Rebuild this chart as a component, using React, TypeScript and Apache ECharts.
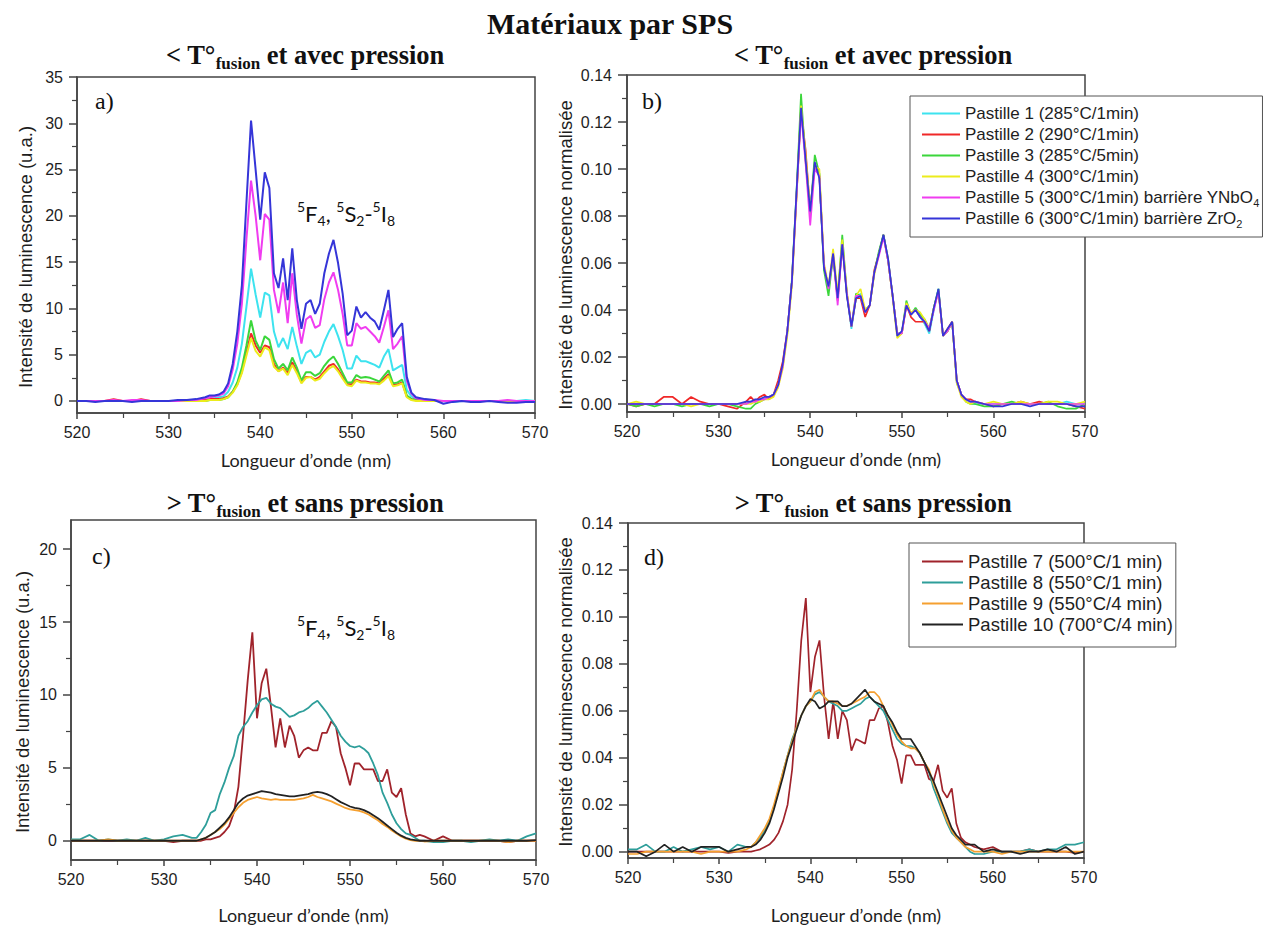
import React, { useEffect, useRef } from "react";
import * as echarts from "echarts";

// ---------- DATA ----------
const wavelength = [
  520, 521, 522, 523, 524, 525, 526, 527, 528, 529, 530, 531, 532, 533,
  533.5, 534, 534.5, 535, 535.5, 536, 536.5, 537, 537.5, 538,
  538.5, 539, 539.5, 540, 540.5, 541, 541.5, 542, 542.5, 543,
  543.5, 544, 544.5, 545, 545.5, 546, 546.5, 547, 547.5, 548,
  548.5, 549, 549.5, 550, 550.5, 551, 551.5, 552, 552.5, 553,
  553.5, 554, 554.5, 555, 555.5, 556, 556.5, 557, 557.5, 558,
  559, 560, 561, 562, 563, 564, 565, 566, 567, 568, 569, 570,
];

const namesAB = [
  "Pastille 1 (285°C/1min)",
  "Pastille 2 (290°C/1min)",
  "Pastille 3 (285°C/5min)",
  "Pastille 4 (300°C/1min)",
  "Pastille 5 (300°C/1min) barrière YNbO4",
  "Pastille 6 (300°C/1min) barrière ZrO2",
];
const namesCD = [
  "Pastille 7 (500°C/1 min)",
  "Pastille 8 (550°C/1 min)",
  "Pastille 9 (550°C/4 min)",
  "Pastille 10 (700°C/4 min)",
];
const colorsAB = ["#3de3ef", "#f02828", "#3bd63b", "#ecec1c", "#f03cf0", "#3535d8"];
const colorsCD = ["#a0232b", "#2e9e9a", "#f5a030", "#222222"];

// panel a) raw intensity (u.a.)
const aP1 = [0, 0, 0, 0, 0, 0, 0, 0, 0, 0, 0, 0, 0, 0.1,
  0.1, 0.2, 0.3, 0.3, 0.4, 0.5, 1.0, 2.0, 3.6, 6.2,
  10.2, 14.3, 11.5, 9.0, 11.7, 11.4, 7.5, 5.8, 6.8, 5.6,
  8.0, 5.9, 4.0, 5.2, 5.5, 4.7, 5.0, 6.4, 7.5, 8.3,
  7.0, 5.5, 3.5, 3.5, 4.9, 4.3, 4.3, 4.1, 3.9, 3.6,
  4.8, 5.6, 3.3, 3.6, 3.9, 1.2, 0.5, 0.2, 0.1, 0.1,
  0, 0, -0.1, 0, 0, 0, 0, 0, 0, 0, 0.1, 0];
const aP2 = [0, 0, 0, 0, 0.2, 0, 0, 0.2, 0, 0, 0, 0, 0.1, 0.1,
  0.1, 0.1, 0.2, 0.2, 0.2, 0.3, 0.5, 1.0, 1.8, 3.2,
  5.2, 7.3, 6.0, 5.2, 6.0, 5.8, 4.0, 3.2, 3.6, 3.0,
  4.2, 3.2, 2.0, 2.6, 2.6, 2.3, 2.6, 3.2, 3.8, 4.0,
  3.4, 2.6, 1.8, 1.8, 2.3, 2.1, 2.1, 2.0, 2.0, 1.9,
  2.4, 2.9, 1.7, 1.8, 2.0, 0.5, 0.2, 0.1, 0.1, 0,
  0, 0, 0, 0, 0, 0, 0, 0, 0, 0, 0, 0];
const aP3 = [0, 0, 0, 0, 0, 0, 0, 0, 0, 0, 0, 0, 0, 0,
  0, 0, 0.1, 0.1, 0.1, 0.2, 0.4, 1.0, 2.0, 3.6,
  6.0, 8.7, 6.5, 5.5, 7.0, 6.6, 4.5, 3.5, 4.0, 3.3,
  4.7, 3.6, 2.2, 3.1, 3.1, 2.7, 3.0, 3.8, 4.4, 4.8,
  4.0, 3.0, 2.0, 2.0, 2.8, 2.5, 2.6, 2.5, 2.3, 2.1,
  2.7, 3.3, 1.9, 2.0, 2.3, 0.6, 0.2, 0.1, 0, 0,
  0, 0, 0, 0, 0, 0, 0, 0, 0, 0, 0, 0];
const aP4 = [0, 0, 0, 0, 0, 0, 0, 0, 0, 0, 0, 0, 0, 0,
  0, 0, 0.1, 0.1, 0.1, 0.2, 0.4, 0.9, 1.7, 3.0,
  4.9, 6.8, 5.4, 4.8, 5.8, 5.5, 3.7, 3.2, 3.5, 2.8,
  3.9, 3.0, 1.9, 2.5, 2.6, 2.2, 2.4, 3.0, 3.5, 3.8,
  3.2, 2.4, 1.7, 1.6, 2.2, 2.0, 2.0, 1.9, 1.9, 1.8,
  2.2, 2.7, 1.6, 1.7, 1.9, 0.4, 0.1, 0, 0, 0,
  0, 0, 0, 0, 0, 0, 0, 0, 0, 0, 0, 0];
const aP5 = [0, 0, 0, 0, 0.1, 0, 0.1, 0.1, 0, 0, 0, 0, 0.1, 0.1,
  0.2, 0.3, 0.4, 0.5, 0.6, 0.8, 1.6, 3.4, 6.2, 10.5,
  17.5, 23.8, 20.0, 15.2, 20.2, 19.6, 12.0, 9.5, 12.8, 8.4,
  13.8, 9.3, 6.2, 8.8, 9.2, 7.9, 8.2, 11.0, 12.8, 13.9,
  12.0, 9.4, 6.0, 6.0, 8.4, 7.8, 8.0, 7.5, 7.0, 6.3,
  8.0, 9.8, 5.6, 6.2, 7.0, 2.2, 0.8, 0.3, 0.2, 0.1,
  0.1, 0, 0, 0, 0, 0, 0, 0, 0.1, 0, 0, 0];
const aP6 = [0, 0, -0.1, 0, 0, 0, -0.1, 0, 0, 0, 0, 0.1, 0.1, 0.2,
  0.3, 0.4, 0.6, 0.6, 0.7, 1.0, 1.9, 4.0, 7.5, 12.5,
  21.5, 30.3, 25.0, 19.6, 24.7, 23.0, 13.8, 12.2, 15.4, 10.9,
  16.5, 10.9, 7.8, 10.5, 10.9, 9.4, 10.5, 13.8, 15.9, 17.4,
  14.9, 11.6, 7.1, 7.6, 10.2, 9.0, 9.6, 9.0, 8.6, 7.7,
  9.8, 12.0, 6.9, 7.8, 8.4, 2.6, 0.9, 0.4, 0.3, 0.2,
  0.1, -0.3, -0.1, 0, -0.1, -0.1, 0, -0.1, -0.2, -0.2, -0.1, -0.1];

// panel b) normalised intensity
const bP1 = [0, 0, 0, 0, 0, 0, 0, 0, 0, 0, 0, 0, 0, 0,
  0.001, 0.001, 0.002, 0.002, 0.003, 0.004, 0.008, 0.016, 0.031, 0.052,
  0.089, 0.126, 0.104, 0.081, 0.102, 0.098, 0.058, 0.050, 0.063, 0.045,
  0.069, 0.047, 0.032, 0.045, 0.047, 0.039, 0.042, 0.056, 0.064, 0.072,
  0.062, 0.046, 0.030, 0.030, 0.043, 0.038, 0.040, 0.037, 0.034, 0.030,
  0.040, 0.049, 0.029, 0.031, 0.035, 0.010, 0.004, 0.002, 0.001, 0,
  0, 0, 0, 0, 0, 0, 0, 0, 0, 0.001, 0, 0];
const bP2 = [0, -0.001, 0, 0, 0.003, 0.003, 0, 0.003, 0.001, 0, 0, -0.001, -0.002, 0.001,
  0.003, 0.001, 0.003, 0.004, 0.002, 0.004, 0.010, 0.018, 0.031, 0.052,
  0.088, 0.125, 0.108, 0.082, 0.102, 0.097, 0.059, 0.049, 0.063, 0.044,
  0.068, 0.047, 0.033, 0.045, 0.045, 0.037, 0.042, 0.057, 0.064, 0.072,
  0.061, 0.046, 0.030, 0.030, 0.042, 0.037, 0.035, 0.035, 0.035, 0.031,
  0.041, 0.048, 0.029, 0.032, 0.035, 0.010, 0.004, 0.002, 0.002, 0.001,
  0, -0.001, 0, 0, 0.001, 0, 0.001, 0, 0, 0, -0.001, -0.002];
const bP3 = [0, -0.001, 0, -0.001, 0, 0, -0.001, 0, 0, -0.001, 0, 0, -0.001, -0.002,
  -0.002, 0, 0.001, 0.002, 0.003, 0.004, 0.008, 0.016, 0.030, 0.053,
  0.090, 0.132, 0.103, 0.081, 0.106, 0.098, 0.057, 0.046, 0.063, 0.045,
  0.072, 0.047, 0.033, 0.047, 0.046, 0.040, 0.042, 0.056, 0.065, 0.072,
  0.061, 0.046, 0.030, 0.030, 0.044, 0.038, 0.041, 0.038, 0.036, 0.032,
  0.041, 0.049, 0.029, 0.031, 0.035, 0.009, 0.004, 0.001, 0, 0,
  -0.001, -0.001, 0, 0.001, 0, 0, 0, 0.001, -0.001, -0.002, -0.002, 0];
const bP4 = [0, 0.001, 0, 0, 0, 0, 0, -0.001, 0, 0, 0, 0, 0, 0,
  0, 0.001, 0.001, 0.002, 0.002, 0.003, 0.007, 0.015, 0.029, 0.050,
  0.087, 0.127, 0.106, 0.083, 0.101, 0.100, 0.060, 0.050, 0.066, 0.047,
  0.070, 0.048, 0.033, 0.046, 0.049, 0.040, 0.042, 0.055, 0.064, 0.071,
  0.062, 0.045, 0.028, 0.030, 0.043, 0.039, 0.040, 0.039, 0.036, 0.032,
  0.041, 0.048, 0.029, 0.031, 0.035, 0.009, 0.003, 0.001, 0, 0.001,
  0, 0.001, 0, 0, 0.001, 0, 0, 0.001, 0.001, 0, 0, 0.001];
const bP5 = [0, 0, 0, 0, 0, 0, 0, 0, 0, 0, 0, 0, 0, 0,
  0.001, 0.001, 0.002, 0.002, 0.003, 0.004, 0.008, 0.016, 0.031, 0.052,
  0.088, 0.124, 0.102, 0.076, 0.100, 0.097, 0.059, 0.049, 0.064, 0.042,
  0.068, 0.047, 0.033, 0.046, 0.046, 0.039, 0.042, 0.056, 0.063, 0.071,
  0.061, 0.046, 0.030, 0.030, 0.042, 0.038, 0.040, 0.037, 0.035, 0.032,
  0.040, 0.048, 0.029, 0.031, 0.035, 0.010, 0.004, 0.002, 0.001, 0.001,
  0, 0, 0, 0, 0, 0, 0, 0, 0, 0, 0, 0];
const bP6 = [0, 0, 0, 0, 0, 0, 0, 0, 0, 0, 0, 0, 0, 0.001,
  0.001, 0.002, 0.002, 0.003, 0.003, 0.004, 0.008, 0.017, 0.031, 0.052,
  0.090, 0.126, 0.104, 0.082, 0.103, 0.096, 0.058, 0.050, 0.064, 0.045,
  0.068, 0.046, 0.033, 0.045, 0.046, 0.039, 0.042, 0.056, 0.064, 0.072,
  0.062, 0.046, 0.029, 0.031, 0.042, 0.038, 0.040, 0.037, 0.035, 0.031,
  0.041, 0.049, 0.029, 0.032, 0.035, 0.010, 0.004, 0.002, 0.001, 0.001,
  0, -0.001, -0.001, 0, 0, -0.001, 0, 0, 0, 0, -0.001, -0.001];

// panel c) raw intensity (u.a.)
const cP7 = [0, 0, 0, 0, 0, 0, 0, 0, 0, 0, 0, -0.1, 0, 0,
  0, 0, 0.1, 0.1, 0.2, 0.3, 0.6, 1.0, 1.9, 3.7,
  7.2, 11.0, 14.3, 8.4, 10.8, 11.8, 9.2, 6.4, 8.4, 6.4,
  7.9, 7.2, 5.7, 6.2, 6.4, 6.2, 6.2, 7.4, 7.4, 8.2,
  7.8, 6.0, 5.0, 3.8, 5.3, 5.3, 4.9, 4.9, 4.9, 4.1,
  4.1, 4.9, 3.3, 3.0, 3.6, 1.8, 0.5, 0.3, 0.4, 0.3,
  0, 0.3, 0, 0, 0, 0, 0, 0, -0.1, 0, 0, 0];
const cP8 = [0.1, 0.1, 0.4, 0.0, 0.1, 0.0, 0.1, 0.0, 0.2, 0.0, 0.1, 0.3, 0.4, 0.2,
  0.2, 0.6, 1.1, 1.9, 2.1, 3.2, 4.0, 5.0, 5.8, 7.2,
  7.8, 8.2, 8.8, 9.3, 9.7, 9.8, 9.4, 9.2, 9.1, 8.8,
  8.5, 8.6, 8.8, 8.9, 9.1, 9.4, 9.6, 9.2, 8.8, 8.3,
  7.8, 7.2, 6.8, 6.5, 6.4, 6.5, 6.3, 6.0, 5.3, 4.5,
  3.3, 2.6, 1.8, 1.2, 0.8, 0.5, 0.4, 0.2, 0.0, 0.0,
  -0.1, -0.1, 0.0, 0.0, -0.1, 0.0, 0.1, 0.0, 0.1, 0.0, 0.3, 0.5];
const cP9 = [0, 0, 0, 0, 0.1, 0, 0, 0, 0, 0, 0, 0, 0, 0,
  0.0, 0.1, 0.2, 0.4, 0.6, 0.8, 1.1, 1.5, 1.9, 2.3,
  2.6, 2.8, 2.9, 3.0, 2.9, 2.85, 2.8, 2.85, 2.8, 2.8,
  2.8, 2.8, 2.85, 2.9, 3.0, 3.15, 3.0, 2.9, 2.8, 2.7,
  2.55, 2.4, 2.25, 2.15, 2.1, 2.05, 1.95, 1.8, 1.6, 1.4,
  1.15, 0.95, 0.7, 0.5, 0.3, 0.15, 0.05, 0.0, 0.0, -0.05,
  0, 0, 0, 0, 0, 0, 0, 0, -0.1, 0, 0, 0];
const cP10 = [0, 0, 0, 0, 0, 0, 0, 0, 0, 0, 0, 0, 0, 0,
  0.0, 0.1, 0.2, 0.4, 0.6, 0.9, 1.2, 1.6, 2.1, 2.6,
  2.9, 3.1, 3.2, 3.3, 3.4, 3.35, 3.3, 3.2, 3.15, 3.1,
  3.05, 3.05, 3.1, 3.15, 3.2, 3.3, 3.35, 3.3, 3.2, 3.05,
  2.85, 2.65, 2.5, 2.35, 2.25, 2.2, 2.1, 1.95, 1.75, 1.55,
  1.3, 1.05, 0.8, 0.55, 0.35, 0.2, 0.1, 0.05, 0.0, 0.0,
  0, 0, 0, 0, 0, 0, 0, 0, 0, 0, 0, 0.05];

// panel d) normalised intensity
const dP7 = [0, 0, 0, 0, 0, 0, 0, 0, 0, 0, 0, -0.0005, 0, 0,
  0.0, 0.0005, 0.001, 0.002, 0.003, 0.005, 0.008, 0.013, 0.02, 0.035,
  0.06, 0.09, 0.108, 0.068, 0.083, 0.09, 0.066, 0.048, 0.064, 0.048,
  0.06, 0.056, 0.043, 0.048, 0.047, 0.046, 0.056, 0.056, 0.061, 0.062,
  0.055, 0.045, 0.039, 0.029, 0.041, 0.041, 0.037, 0.037, 0.037, 0.031,
  0.03, 0.037, 0.026, 0.023, 0.027, 0.012, 0.006, 0.004, 0.003, 0.002,
  0.001, 0.002, 0.0, 0.0, 0.0, 0.001, 0.0, 0.0, 0.0, 0.0, -0.0005, 0.0];
const dP8 = [0.001, 0.001, 0.003, 0.0, 0.0, 0.002, 0.0, 0.001, 0.002, 0.001, 0.002, 0.0, 0.003, 0.002,
  0.002, 0.004, 0.006, 0.009, 0.013, 0.019, 0.026, 0.034, 0.041, 0.048,
  0.053, 0.058, 0.062, 0.064, 0.067, 0.068, 0.066, 0.064, 0.063, 0.062,
  0.06, 0.06, 0.061, 0.062, 0.063, 0.065, 0.066, 0.064, 0.062, 0.06,
  0.056, 0.052, 0.048, 0.046, 0.045, 0.045, 0.044, 0.042, 0.038, 0.034,
  0.027, 0.022, 0.017, 0.012, 0.008, 0.006, 0.004, 0.002, 0.0, -0.001,
  -0.001, 0.0, 0.0, 0.0, 0.0, 0.001, 0.0, 0.001, 0.001, 0.003, 0.003, 0.004];
const dP9 = [-0.001, -0.001, 0.0, 0.0, 0.0, 0.0, 0.0, 0.0, -0.001, 0.0, 0.0, 0.0, 0.0, 0.001,
  0.002, 0.004, 0.007, 0.01, 0.014, 0.02, 0.027, 0.034, 0.041, 0.047,
  0.053, 0.058, 0.062, 0.064, 0.068, 0.069, 0.066, 0.064, 0.064, 0.063,
  0.062, 0.062, 0.063, 0.064, 0.065, 0.066, 0.068, 0.068, 0.066, 0.062,
  0.058, 0.054, 0.05, 0.047, 0.045, 0.044, 0.044, 0.042, 0.038, 0.035,
  0.029, 0.024, 0.018, 0.013, 0.009, 0.006, 0.004, 0.002, 0.001, 0.0,
  0.0, 0.0, -0.001, 0.0, 0.0, 0.0, 0.0, 0.0, 0.0, 0.0, 0.0, 0.0];
const dP10 = [0.0, 0.0, -0.002, 0.0, 0.003, 0.0, 0.002, 0.0, 0.002, 0.002, 0.002, 0.0, 0.001, 0.002,
  0.002, 0.003, 0.005, 0.008, 0.012, 0.018, 0.025, 0.032, 0.04, 0.046,
  0.052, 0.058, 0.062, 0.065, 0.064, 0.061, 0.062, 0.064, 0.064, 0.064,
  0.062, 0.062, 0.063, 0.065, 0.067, 0.069, 0.066, 0.064, 0.063, 0.062,
  0.058, 0.055, 0.051, 0.048, 0.048, 0.048, 0.045, 0.042, 0.038, 0.034,
  0.03, 0.025, 0.02, 0.015, 0.01, 0.007, 0.005, 0.003, 0.003, 0.003,
  0.0, 0.001, 0.0, 0.0, -0.001, 0.0, 0.0, 0.001, 0.0, 0.002, -0.001, 0.0];

const xTicks = [520, 530, 540, 550, 560, 570];
const yMajorA = [0, 5, 10, 15, 20, 25, 30, 35];
const yMinorA = [2.5, 7.5, 12.5, 17.5, 22.5, 27.5, 32.5];
const yMajorC = [0, 5, 10, 15, 20];
const yMinorC = [2.5, 7.5, 12.5, 17.5];
const yMajorN = [0, 0.02, 0.04, 0.06, 0.08, 0.1, 0.12, 0.14];
const yMinorN = [0.01, 0.03, 0.05, 0.07, 0.09, 0.11, 0.13];

// ---------- STYLE / OPTION ----------
const AX = "#444";
const TXT = "#1e1e1e";
const SANS = "Liberation Sans";
const SERIF = "Liberation Serif";
const CAL = "Lato";

const grids = [
  { left: 77, top: 77, width: 458, height: 336 },
  { left: 627, top: 75, width: 458, height: 337 },
  { left: 71, top: 520, width: 465, height: 340 },
  { left: 628, top: 523, width: 456, height: 335 },
];
const yRanges = [
  [-1.3, 35],
  [-0.0034, 0.14],
  [-1.32, 22],
  [-0.0027, 0.14],
];
const yMajors = [yMajorA, yMajorN, yMajorC, yMajorN];
const yMinors = [yMinorA, yMinorN, yMinorC, yMinorN];
const xNameGaps = [38, 38, 46, 48];
const yTickLen = [8, 9, 8, 9];
const yLabMargin = [14, 15, 14, 15];

function buildOption() {
  const lineStyle = { color: AX, width: 1.5 };
  const xAxis = grids.map((_, g) => ({
    type: "value",
    gridIndex: g,
    min: 520,
    max: 570,
    interval: 10,
    axisLine: { show: true, onZero: false, lineStyle },
    axisTick: { show: true, inside: false, length: 6, lineStyle },
    minorTick: { show: true, splitNumber: 2, length: 5, lineStyle: { color: AX, width: 1.2 } },
    axisLabel: {
      customValues: xTicks,
      fontFamily: SANS,
      fontSize: 16,
      color: TXT,
      margin: 11,
    },
    splitLine: { show: false },
    minorSplitLine: { show: false },
    name: "Longueur d’onde (nm)",
    nameLocation: "middle",
    nameGap: xNameGaps[g],
    nameTextStyle: { fontFamily: CAL, fontSize: 18, color: TXT },
  }));
  const yAxis: any[] = [];
  grids.forEach((_, g) => {
    const norm = g === 1 || g === 3;
    yAxis.push({
      type: "value",
      gridIndex: g,
      position: "left",
      min: yRanges[g][0],
      max: yRanges[g][1],
      axisLine: { show: true, onZero: false, lineStyle },
      axisTick: { show: true, inside: false, length: yTickLen[g], customValues: yMajors[g], lineStyle },
      axisLabel: {
        customValues: yMajors[g],
        fontFamily: SANS,
        fontSize: 16,
        color: TXT,
        margin: yLabMargin[g],
        formatter: (v: number) => (norm ? v.toFixed(2) : String(v)),
      },
      splitLine: { show: false },
    });
    yAxis.push({
      type: "value",
      gridIndex: g,
      position: "left",
      min: yRanges[g][0],
      max: yRanges[g][1],
      axisLine: { show: false },
      axisTick: { show: true, inside: false, length: 5, customValues: yMinors[g], lineStyle: { color: AX, width: 1.2 } },
      axisLabel: { show: false },
      splitLine: { show: false },
    });
  });

  const mk = (name: string, color: string, vals: number[], g: number, width: number) => ({
    name,
    type: "line",
    xAxisIndex: g,
    yAxisIndex: 2 * g,
    symbol: "none",
    showSymbol: false,
    lineStyle: { color, width },
    itemStyle: { color },
    data: wavelength.map((w, i) => [w, vals[i]]),
  });

  const aVals = [aP1, aP2, aP3, aP4, aP5, aP6];
  const bVals = [bP1, bP2, bP3, bP4, bP5, bP6];
  const cVals = [cP7, cP8, cP9, cP10];
  const dVals = [dP7, dP8, dP9, dP10];
  const series = [
    ...namesAB.map((n, i) => mk(n, colorsAB[i], aVals[i], 0, 2)),
    ...namesAB.map((n, i) => mk(n, colorsAB[i], bVals[i], 1, 1.7)),
    ...namesCD.map((n, i) => mk(n, colorsCD[i], cVals[i], 2, 1.8)),
    ...namesCD.map((n, i) => mk(n, colorsCD[i], dVals[i], 3, 1.7)),
  ];

  const legendLabel = (name: string) => {
    if (name.endsWith("YNbO4")) return name.slice(0, -1) + "{s|4}";
    if (name.endsWith("ZrO2")) return name.slice(0, -1) + "{s|2}";
    return name;
  };

  const legend = [
    {
      data: namesAB,
      orient: "vertical",
      left: 910,
      top: 96,
      padding: [7, 3, 8, 12],
      icon: "rect",
      itemWidth: 38,
      itemHeight: 2,
      itemGap: 0,
      selectedMode: false,
      borderColor: "#555",
      borderWidth: 1,
      backgroundColor: "#ffffff",
      formatter: legendLabel,
      textStyle: {
        fontFamily: SANS,
        fontSize: 17,
        color: TXT,
        lineHeight: 21,
        rich: { s: { fontFamily: SANS, fontSize: 11, color: TXT, verticalAlign: "bottom", lineHeight: 10 } },
      },
    },
    {
      data: namesCD,
      orient: "vertical",
      left: 909,
      top: 543,
      padding: [8, 3, 12, 13],
      icon: "rect",
      itemWidth: 41,
      itemHeight: 2,
      itemGap: 0,
      selectedMode: false,
      borderColor: "#555",
      borderWidth: 1,
      backgroundColor: "#ffffff",
      textStyle: { fontFamily: SANS, fontSize: 18.5, color: TXT, lineHeight: 21 },
    },
  ];

  const txt = (x: number, y: number, style: any, extra: any = {}) => ({
    type: "text",
    x,
    y,
    silent: true,
    z: 100,
    style: {
      fill: TXT,
      align: "center",
      verticalAlign: "middle",
      textAlign: "center",
      textVerticalAlign: "middle",
      ...style,
    },
    ...extra,
  });

  const subRich = {
    m: { fontFamily: SERIF, fontWeight: "bold", fontSize: 26.5, lineHeight: 34, fill: "#111" },
    s: { fontFamily: SERIF, fontWeight: "bold", fontSize: 17, lineHeight: 17, verticalAlign: "bottom", fill: "#111" },
  };
  const annRich = {
    m: { fontFamily: CAL, fontSize: 22, lineHeight: 28, fill: "#111" },
    p: { fontFamily: CAL, fontSize: 14, lineHeight: 12, verticalAlign: "top", fill: "#111" },
    b: { fontFamily: CAL, fontSize: 14, lineHeight: 18, verticalAlign: "bottom", fill: "#111" },
  };
  const annText = "{p|5}{m|F}{b|4}{m|, }{p|5}{m|S}{b|2}{m|-}{p|5}{m|I}{b|8}";
  const subA = "{m|< T°}{s|fusion}{m| et avec pression}";
  const subC = "{m|> T°}{s|fusion}{m| et sans pression}";

  const graphic = [
    txt(610, 23, { text: "Matériaux par SPS", fontFamily: SERIF, fontWeight: "bold", fontSize: 30, fill: "#111" }),
    txt(305, 55, { text: subA, rich: subRich }),
    txt(873, 55, { text: subA, rich: subRich }),
    txt(305, 503, { text: subC, rich: subRich }),
    txt(873, 503, { text: subC, rich: subRich }),
    txt(95, 101, { text: "a)", fontFamily: SERIF, fontSize: 24, align: "left", textAlign: "left", fill: "#111" }),
    txt(642, 101, { text: "b)", fontFamily: SERIF, fontSize: 24, align: "left", textAlign: "left", fill: "#111" }),
    txt(92, 556, { text: "c)", fontFamily: SERIF, fontSize: 24, align: "left", textAlign: "left", fill: "#111" }),
    txt(644, 557, { text: "d)", fontFamily: SERIF, fontSize: 24, align: "left", textAlign: "left", fill: "#111" }),
    txt(346, 213, { text: annText, rich: annRich }),
    txt(346, 627, { text: annText, rich: annRich }),
    txt(25, 257, { text: "Intensité de luminescence (u.a.)", fontFamily: SANS, fontSize: 18.5 }, { rotation: Math.PI / 2 }),
    txt(565, 255, { text: "Intensité de luminescence normalisée", fontFamily: SANS, fontSize: 18.5 }, { rotation: Math.PI / 2 }),
    txt(22, 702, { text: "Intensité de luminescence (u.a.)", fontFamily: SANS, fontSize: 18.5 }, { rotation: Math.PI / 2 }),
    txt(565, 692, { text: "Intensité de luminescence normalisée", fontFamily: SANS, fontSize: 18.5 }, { rotation: Math.PI / 2 }),
  ];

  return {
    animation: false,
    backgroundColor: "#ffffff",
    textStyle: { fontFamily: SANS },
    grid: grids.map((g) => ({ ...g, show: true, borderColor: AX, borderWidth: 1.5, containLabel: false })),
    xAxis,
    yAxis,
    legend,
    series,
    graphic,
  };
}

export default function App() {
  const ref = useRef<HTMLDivElement>(null);
  useEffect(() => {
    if (!ref.current) return;
    const chart = echarts.init(ref.current, null, { renderer: "svg" });
    chart.setOption(buildOption() as any);
    return () => chart.dispose();
  }, []);
  return (
    <div
      ref={ref}
      style={{ position: "absolute", left: 0, top: 0, width: 1267, height: 926, background: "#fff" }}
    />
  );
}
